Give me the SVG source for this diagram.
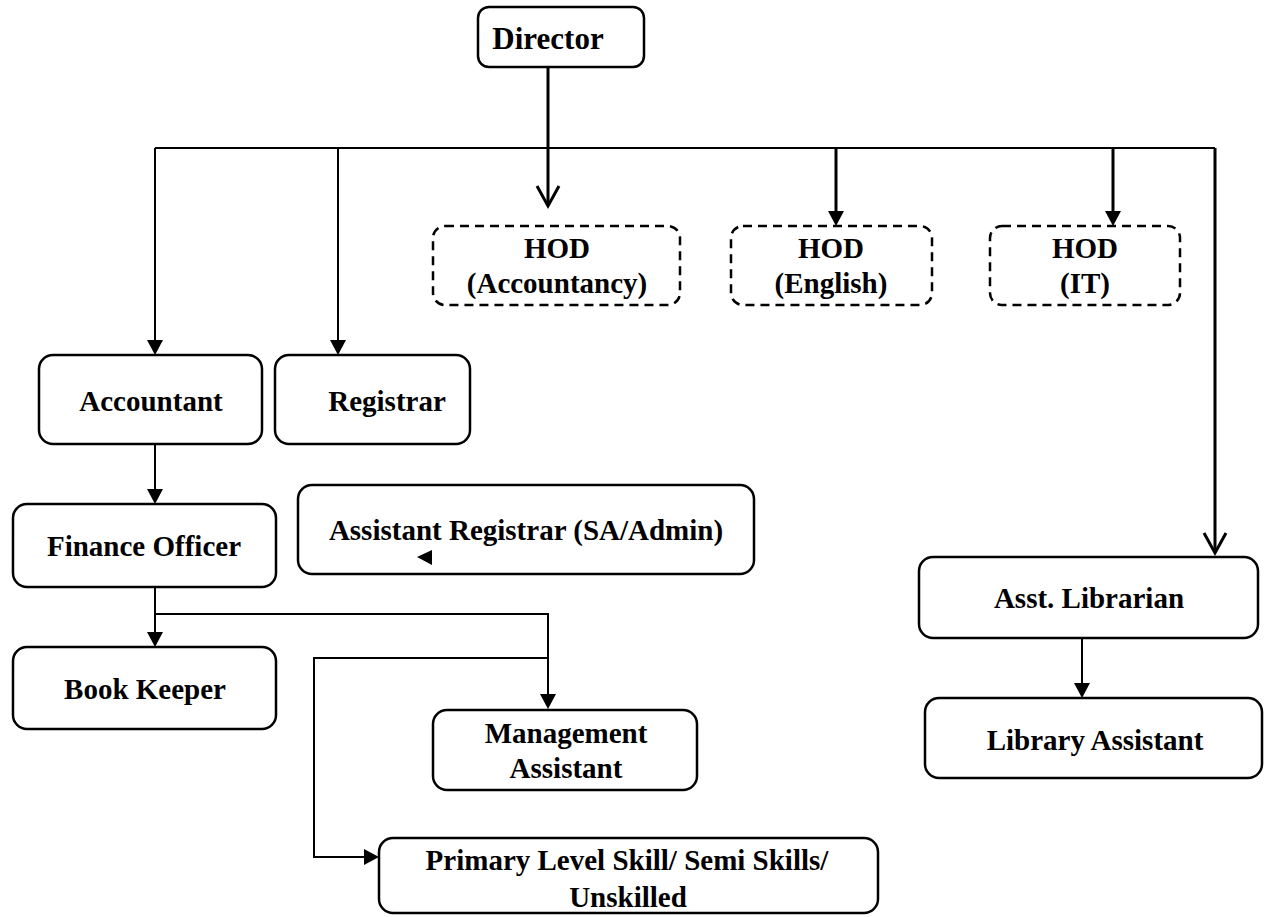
<svg xmlns="http://www.w3.org/2000/svg" width="1272" height="917" viewBox="0 0 1272 917">
<style>
.box{fill:#fff;stroke:#000;stroke-width:2.5}
.dash{fill:#fff;stroke:#000;stroke-width:2.5;stroke-dasharray:9 6}
text{font-family:"Liberation Serif","Times New Roman",serif;font-weight:bold;font-size:29px;text-anchor:middle;fill:#000}
.thin{fill:none;stroke:#000;stroke-width:2}
.thick{fill:none;stroke:#000;stroke-width:3}
</style>
<rect width="1272" height="917" fill="#fff"/>
<g id="connectors">
<path class="thick" d="M548,67 V205"/>
<path class="thick" d="M537,186 L548,206 L559,186"/>
<path class="thin" d="M155,148 H1215"/>
<path class="thin" d="M155,148 V341"/>
<path d="M147,340 L163,340 L155,355 Z"/>
<path class="thin" d="M338,148 V341"/>
<path d="M330,340 L346,340 L338,355 Z"/>
<path class="thick" d="M836,148 V212"/>
<path d="M828,211 L844,211 L836,226 Z"/>
<path class="thick" d="M1113,148 V212"/>
<path d="M1105,211 L1121,211 L1113,226 Z"/>
<path class="thick" d="M1215,148 V551"/>
<path class="thick" d="M1204,533 L1215,553 L1226,533"/>
<path class="thin" d="M155,444 V490"/>
<path d="M147,489 L163,489 L155,504 Z"/>
<path class="thin" d="M155,587 V633 M155,614 H548 V695"/>
<path d="M147,632 L163,632 L155,647 Z"/>
<path d="M540,694 L556,694 L548,709 Z"/>
<path class="thin" d="M548,658 H314 V857 H365"/>
<path d="M364,849 L364,865 L379,857 Z"/>
<path class="thin" d="M1082,638 V684"/>
<path d="M1074,683 L1090,683 L1082,698 Z"/>
</g>
<g id="director">
<rect class="box" x="478" y="7" width="166" height="60" rx="11"/>
<text x="548" y="49" style="font-size:31px">Director</text>
</g>
<g id="hod-accountancy">
<rect class="dash" x="433" y="226" width="247" height="79" rx="12"/>
<text x="557" y="258">HOD</text>
<text x="557" y="293">(Accountancy)</text>
</g>
<g id="hod-english">
<rect class="dash" x="731" y="226" width="201" height="79" rx="12"/>
<text x="831" y="258">HOD</text>
<text x="831" y="293">(English)</text>
</g>
<g id="hod-it">
<rect class="dash" x="990" y="226" width="190" height="79" rx="12"/>
<text x="1085" y="258">HOD</text>
<text x="1085" y="293">(IT)</text>
</g>
<g id="accountant">
<rect class="box" x="39" y="355" width="223" height="89" rx="14"/>
<text x="151" y="411">Accountant</text>
</g>
<g id="registrar">
<rect class="box" x="275" y="355" width="195" height="89" rx="14"/>
<text x="387" y="411">Registrar</text>
</g>
<g id="finance-officer">
<rect class="box" x="13" y="504" width="263" height="83" rx="14"/>
<text x="144" y="556">Finance Officer</text>
</g>
<g id="assistant-registrar">
<rect class="box" x="298" y="485" width="456" height="89" rx="14"/>
<text x="526" y="540">Assistant Registrar (SA/Admin)</text>
<path d="M417,557 L432,550 L432,565 Z"/>
</g>
<g id="book-keeper">
<rect class="box" x="13" y="647" width="263" height="82" rx="14"/>
<text x="145" y="699">Book Keeper</text>
</g>
<g id="management-assistant">
<rect class="box" x="433" y="710" width="264" height="80" rx="14"/>
<text x="566" y="743">Management</text>
<text x="566" y="778">Assistant</text>
</g>
<g id="primary-level">
<rect class="box" x="379" y="838" width="499" height="75" rx="14"/>
<text x="627" y="870">Primary Level Skill/ Semi Skills/</text>
<text x="628" y="907">Unskilled</text>
</g>
<g id="asst-librarian">
<rect class="box" x="919" y="557" width="339" height="81" rx="14"/>
<text x="1089" y="608">Asst. Librarian</text>
</g>
<g id="library-assistant">
<rect class="box" x="925" y="698" width="337" height="80" rx="14"/>
<text x="1095" y="750">Library Assistant</text>
</g>
</svg>
